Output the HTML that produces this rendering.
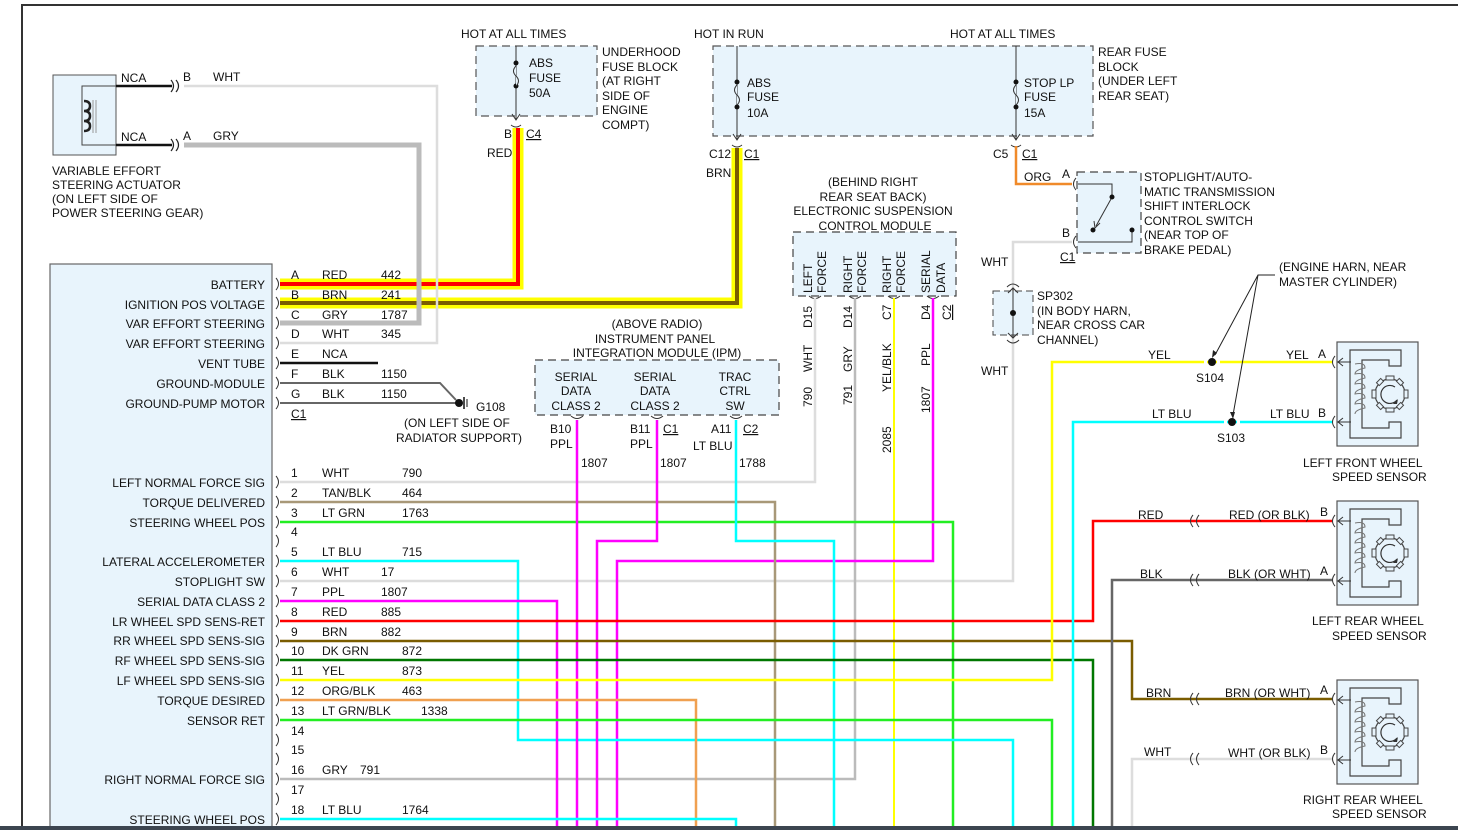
<!DOCTYPE html>
<html><head><meta charset="utf-8"><style>
html,body{margin:0;padding:0;background:#fff;}
svg{display:block;}
text{font-family:"Liberation Sans",sans-serif;font-size:12px;fill:#111;}
</style></head><body>
<svg width="1458" height="830" viewBox="0 0 1458 830" xmlns="http://www.w3.org/2000/svg">
<defs>
<g id="sens">
<rect x="0" y="0" width="81" height="104" fill="#e8f4fc" stroke="#555" stroke-width="1.2"/>
<path d="M64,24 V8 H13 V96 H64 V80 H52 V86 H25 V18 H52 V24 Z" fill="none" stroke="#444" stroke-width="1.2"/>
<path d="M18,22 q10,-2 10,4 q-10,2 -10,6 q10,-2 10,4 q-10,2 -10,6 q10,-2 10,4 q-10,2 -10,6 q10,-2 10,4 q-10,2 -10,6 q10,-2 10,4 q-10,2 -10,6" fill="none" stroke="#777" stroke-width="1"/>
<circle cx="53" cy="52" r="15" fill="none" stroke="#444" stroke-width="1.2"/>
<g fill="#e8f4fc" stroke="#444" stroke-width="1">
<rect x="49" y="34" width="8" height="4"/><rect x="49" y="66" width="8" height="4"/>
<rect x="35" y="48" width="4" height="8"/><rect x="67" y="48" width="4" height="8"/>
<rect x="40" y="38" width="6" height="4" transform="rotate(-45 43 40)"/><rect x="60" y="38" width="6" height="4" transform="rotate(45 63 40)"/>
<rect x="40" y="62" width="6" height="4" transform="rotate(45 43 64)"/><rect x="60" y="62" width="6" height="4" transform="rotate(-45 63 64)"/>
</g>
<path d="M60,58 A9,9 0 1 1 58,45" fill="none" stroke="#333" stroke-width="1.2"/>
<path d="M56,62 l5,-5 l-1,5 z" fill="#333"/>
<path d="M0,20 H14 M6,16 L1,20 L6,24 M0,80 H14 M6,76 L1,80 L6,84" fill="none" stroke="#333" stroke-width="1"/>
</g>
</defs>

<line x1="21" y1="5" x2="1458" y2="5" stroke="#333" stroke-width="2"/>
<line x1="22" y1="5" x2="22" y2="830" stroke="#333" stroke-width="2"/>

<rect x="53" y="75" width="63" height="80" fill="#e8f4fc" stroke="#555"/>
<path d="M116,86 H82 V145 H116" fill="none" stroke="#444"/>
<path d="M84,101 q6,0 6,5 q0,5 -6,5 q6,0 6,5 q0,5 -6,5 q6,0 6,5 q0,5 -6,5" fill="none" stroke="#222" stroke-width="2.5"/>
<line x1="93" y1="100" x2="93" y2="133" stroke="#999"/><line x1="96" y1="100" x2="96" y2="133" stroke="#999"/>
<line x1="116" y1="86" x2="172" y2="86" stroke="#111" stroke-width="2.5"/>
<line x1="116" y1="145" x2="172" y2="145" stroke="#111" stroke-width="2.5"/>
<path d="M171,80 q5,6 0,12 M176,80 q5,6 0,12 M171,139 q5,6 0,12 M176,139 q5,6 0,12" fill="none" stroke="#222" stroke-width="1.2"/>
<text x="121" y="82">NCA</text><text x="121" y="141">NCA</text>
<text x="183" y="81">B</text><text x="213" y="81">WHT</text>
<text x="183" y="140">A</text><text x="213" y="140">GRY</text>
<text x="52" y="175">VARIABLE EFFORT</text><text x="52" y="189">STEERING ACTUATOR</text>
<text x="52" y="203">(ON LEFT SIDE OF</text><text x="52" y="217">POWER STEERING GEAR)</text>

<rect x="476" y="46" width="121" height="70" fill="#e8f4fc" stroke="#555" stroke-dasharray="8,5" stroke-width="1.2"/>
<line x1="516" y1="46" x2="516" y2="120" stroke="#333"/>
<path d="M512,114 L516,120 L520,114" fill="none" stroke="#333"/>
<circle cx="516" cy="63" r="2.5" fill="#111"/><circle cx="516" cy="86" r="2.5" fill="#111"/>
<path d="M516,66 q-5,5 0,10 q5,5 0,10" fill="#e8f4fc" stroke="#333"/>
<text x="529" y="67">ABS</text><text x="529" y="82">FUSE</text><text x="529" y="97">50A</text>
<text x="461" y="38">HOT AT ALL TIMES</text>
<text x="602" y="56">UNDERHOOD</text><text x="602" y="71">FUSE BLOCK</text><text x="602" y="85">(AT RIGHT</text>
<text x="602" y="100">SIDE OF</text><text x="602" y="114">ENGINE</text><text x="602" y="129">COMPT)</text>
<text x="504" y="138">B</text><text x="526" y="138" text-decoration="underline">C4</text><text x="487" y="157">RED</text>

<rect x="713" y="46" width="380" height="90" fill="#e8f4fc" stroke="#555" stroke-dasharray="8,5" stroke-width="1.2"/>
<line x1="737" y1="46" x2="737" y2="140" stroke="#333"/>
<path d="M733,134 L737,140 L741,134" fill="none" stroke="#333"/>
<circle cx="737" cy="82" r="2.5" fill="#111"/><circle cx="737" cy="107" r="2.5" fill="#111"/>
<path d="M737,85 q-5,5 0,10 q5,5 0,10" fill="#e8f4fc" stroke="#333"/>
<line x1="1016" y1="46" x2="1016" y2="140" stroke="#333"/>
<path d="M1012,134 L1016,140 L1020,134" fill="none" stroke="#333"/>
<circle cx="1016" cy="82" r="2.5" fill="#111"/><circle cx="1016" cy="107" r="2.5" fill="#111"/>
<path d="M1016,85 q-5,5 0,10 q5,5 0,10" fill="#e8f4fc" stroke="#333"/>
<text x="747" y="87">ABS</text><text x="747" y="101">FUSE</text><text x="747" y="117">10A</text>
<text x="1024" y="87">STOP LP</text><text x="1024" y="101">FUSE</text><text x="1024" y="117">15A</text>
<text x="694" y="38">HOT IN RUN</text><text x="950" y="38">HOT AT ALL TIMES</text>
<text x="1098" y="56">REAR FUSE</text><text x="1098" y="71">BLOCK</text><text x="1098" y="85">(UNDER LEFT</text><text x="1098" y="100">REAR SEAT)</text>
<text x="709" y="158">C12</text><text x="744" y="158" text-decoration="underline">C1</text><text x="706" y="177">BRN</text>
<text x="993" y="158">C5</text><text x="1022" y="158" text-decoration="underline">C1</text>
<path d="M511,125 q5,4 10,0 M732,145 q5,4 10,0 M1011,145 q5,4 10,0" fill="none" stroke="#333"/>

<path d="M1016,146 V184 H1072" fill="none" stroke="#f08a2a" stroke-width="2.5"/>
<text x="1024" y="181">ORG</text>

<rect x="1077" y="172" width="64" height="81" fill="#e8f4fc" stroke="#444" stroke-dasharray="8,5" stroke-width="1.2"/>
<path d="M1078,184 H1112 V197 M1078,242 H1132 V230" fill="none" stroke="#333"/>
<circle cx="1112" cy="197" r="2.5" fill="#111"/><circle cx="1093" cy="230" r="2.5" fill="#111"/><circle cx="1132" cy="230" r="2.5" fill="#111"/>
<path d="M1111,199 L1096,226" stroke="#333"/><path d="M1094,221 L1095,228 L1100,223" fill="none" stroke="#333"/>
<path d="M1076,178 q-5,6 0,12 M1076,236 q-5,6 0,12" fill="none" stroke="#333"/>
<text x="1062" y="178">A</text><text x="1062" y="237">B</text><text x="1060" y="261" text-decoration="underline">C1</text>
<text x="1144" y="181">STOPLIGHT/AUTO-</text><text x="1144" y="196">MATIC TRANSMISSION</text><text x="1144" y="210">SHIFT INTERLOCK</text>
<text x="1144" y="225">CONTROL SWITCH</text><text x="1144" y="239">(NEAR TOP OF</text><text x="1144" y="254">BRAKE PEDAL)</text>

<path d="M1072,242 H1013 V581 H280" fill="none" stroke="#dcdcdc" stroke-width="2.5"/>
<rect x="993" y="291" width="40" height="44" fill="#e8f4fc" stroke="#444" stroke-dasharray="7,4"/>
<line x1="1013" y1="288" x2="1013" y2="338" stroke="#333"/>
<path d="M1008,293 L1013,288 L1018,293 M1008,333 L1013,338 L1018,333" fill="none" stroke="#333"/>
<circle cx="1013" cy="313" r="3" fill="#111"/>
<path d="M1007,287 q6,-6 12,0 M1007,340 q6,6 12,0" fill="none" stroke="#333"/>
<text x="981" y="266">WHT</text><text x="981" y="375">WHT</text>
<text x="1037" y="300">SP302</text><text x="1037" y="315">(IN BODY HARN,</text><text x="1037" y="329">NEAR CROSS CAR</text><text x="1037" y="344">CHANNEL)</text>

<text x="873" y="186" text-anchor="middle">(BEHIND RIGHT</text>
<text x="873" y="201" text-anchor="middle">REAR SEAT BACK)</text>
<text x="873" y="215" text-anchor="middle">ELECTRONIC SUSPENSION</text>
<text x="875" y="230" text-anchor="middle">CONTROL MODULE</text>
<rect x="793" y="232" width="163" height="64" fill="#e8f4fc" stroke="#444" stroke-dasharray="8,5" stroke-width="1.2"/>
<g transform="rotate(-90)">
<text x="-293" y="812">LEFT</text><text x="-293" y="826">FORCE</text>
<text x="-293" y="852">RIGHT</text><text x="-293" y="866">FORCE</text>
<text x="-293" y="891">RIGHT</text><text x="-293" y="905">FORCE</text>
<text x="-293" y="930">SERIAL</text><text x="-293" y="945">DATA</text>
<text x="-328" y="812">D15</text><text x="-328" y="852">D14</text><text x="-320" y="891">C7</text><text x="-320" y="930">D4</text>
<text x="-320" y="951" text-decoration="underline">C2</text>
<text x="-372" y="812">WHT</text><text x="-372" y="852">GRY</text><text x="-392" y="891">YEL/BLK</text><text x="-366" y="930">PPL</text>
<text x="-407" y="812">790</text><text x="-405" y="852">791</text><text x="-453" y="891">2085</text><text x="-413" y="930">1807</text>
</g>
<path d="M809,296 q6,5 12,0 M849,296 q6,5 12,0 M888,296 q6,5 12,0 M927,296 q6,5 12,0" fill="none" stroke="#333"/>

<text x="657" y="328" text-anchor="middle">(ABOVE RADIO)</text>
<text x="655" y="343" text-anchor="middle">INSTRUMENT PANEL</text>
<text x="657" y="357" text-anchor="middle">INTEGRATION MODULE (IPM)</text>
<rect x="535" y="360" width="244" height="55" fill="#e8f4fc" stroke="#444" stroke-dasharray="8,5" stroke-width="1.2"/>
<text x="576" y="381" text-anchor="middle">SERIAL</text><text x="576" y="395" text-anchor="middle">DATA</text><text x="576" y="410" text-anchor="middle">CLASS 2</text>
<text x="655" y="381" text-anchor="middle">SERIAL</text><text x="655" y="395" text-anchor="middle">DATA</text><text x="655" y="410" text-anchor="middle">CLASS 2</text>
<text x="735" y="381" text-anchor="middle">TRAC</text><text x="735" y="395" text-anchor="middle">CTRL</text><text x="735" y="410" text-anchor="middle">SW</text>
<path d="M571,416 q6,5 12,0 M651,416 q6,5 12,0 M730,416 q6,5 12,0" fill="none" stroke="#333"/>
<text x="550" y="433">B10</text><text x="630" y="433">B11</text><text x="663" y="433" text-decoration="underline">C1</text>
<text x="711" y="433">A11</text><text x="743" y="433" text-decoration="underline">C2</text>
<text x="550" y="448">PPL</text><text x="630" y="448">PPL</text><text x="693" y="450">LT BLU</text>
<text x="581" y="467">1807</text><text x="660" y="467">1807</text><text x="739" y="467">1788</text>

<rect x="50" y="264" width="222" height="570" fill="#e8f4fc" stroke="#666" stroke-width="1.2"/>
<g text-anchor="end">
<text x="265" y="289">BATTERY</text><text x="265" y="309">IGNITION POS VOLTAGE</text>
<text x="265" y="328">VAR EFFORT STEERING</text><text x="265" y="348">VAR EFFORT STEERING</text>
<text x="265" y="368">VENT TUBE</text><text x="265" y="388">GROUND-MODULE</text><text x="265" y="408">GROUND-PUMP MOTOR</text>
<text x="265" y="487">LEFT NORMAL FORCE SIG</text><text x="265" y="507">TORQUE DELIVERED</text><text x="265" y="527">STEERING WHEEL POS</text>
<text x="265" y="566">LATERAL ACCELEROMETER</text><text x="265" y="586">STOPLIGHT SW</text><text x="265" y="606">SERIAL DATA CLASS 2</text>
<text x="265" y="626">LR WHEEL SPD SENS-RET</text><text x="265" y="645">RR WHEEL SPD SENS-SIG</text><text x="265" y="665">RF WHEEL SPD SENS-SIG</text>
<text x="265" y="685">LF WHEEL SPD SENS-SIG</text><text x="265" y="705">TORQUE DESIRED</text><text x="265" y="725">SENSOR RET</text>
<text x="265" y="784">RIGHT NORMAL FORCE SIG</text><text x="265" y="824">STEERING WHEEL POS</text>
</g>
<g fill="none" stroke="#333" stroke-width="1">
<path d="M276,278 q5,6 0,12 M276,297 q5,6 0,12 M276,317 q5,6 0,12 M276,337 q5,6 0,12 M276,357 q5,6 0,12 M276,377 q5,6 0,12 M276,397 q5,6 0,12"/>
<path d="M276,476 q5,6 0,12 M276,496 q5,6 0,12 M276,516 q5,6 0,12 M276,535 q5,6 0,12 M276,555 q5,6 0,12 M276,575 q5,6 0,12 M276,595 q5,6 0,12 M276,615 q5,6 0,12 M276,635 q5,6 0,12 M276,654 q5,6 0,12 M276,674 q5,6 0,12 M276,694 q5,6 0,12 M276,714 q5,6 0,12 M276,734 q5,6 0,12 M276,753 q5,6 0,12 M276,773 q5,6 0,12 M276,793 q5,6 0,12 M276,813 q5,6 0,12"/>
</g>

<path d="M280,284 H518 V128" fill="none" stroke="#ffff00" stroke-width="11"/>
<path d="M280,284 H518 V128" fill="none" stroke="#ff0000" stroke-width="4"/>
<path d="M280,303 H737 V148" fill="none" stroke="#ffff00" stroke-width="11"/>
<path d="M280,303 H737 V148" fill="none" stroke="#7a5c00" stroke-width="4"/>
<path d="M184,145 H419 V323 H280" fill="none" stroke="#bbbbbb" stroke-width="5"/>
<path d="M184,86 H437 V343 H280" fill="none" stroke="#dddddd" stroke-width="2.5"/>
<line x1="280" y1="363" x2="378" y2="363" stroke="#111" stroke-width="2.5"/>
<path d="M280,383 H440 L456,400" fill="none" stroke="#666" stroke-width="2"/>
<line x1="280" y1="403" x2="458" y2="403" stroke="#666" stroke-width="2"/>
<circle cx="459" cy="403" r="4" fill="#111"/>
<line x1="464" y1="397" x2="464" y2="409" stroke="#111" stroke-width="1.5"/>
<line x1="467" y1="399" x2="467" y2="407" stroke="#111"/>
<text x="476" y="411">G108</text>
<text x="404" y="427">(ON LEFT SIDE OF</text><text x="396" y="442">RADIATOR SUPPORT)</text>
<g>
<text x="291" y="279">A</text><text x="322" y="279">RED</text><text x="381" y="279">442</text>
<text x="291" y="299">B</text><text x="322" y="299">BRN</text><text x="381" y="299">241</text>
<text x="291" y="319">C</text><text x="322" y="319">GRY</text><text x="381" y="319">1787</text>
<text x="291" y="338">D</text><text x="322" y="338">WHT</text><text x="381" y="338">345</text>
<text x="291" y="358">E</text><text x="322" y="358">NCA</text>
<text x="291" y="378">F</text><text x="322" y="378">BLK</text><text x="381" y="378">1150</text>
<text x="291" y="398">G</text><text x="322" y="398">BLK</text><text x="381" y="398">1150</text>
<text x="291" y="418" text-decoration="underline">C1</text>
</g>

<g fill="none">
<path d="M280,482 H815 V298" stroke="#dddddd" stroke-width="2.5"/>
<path d="M855,298 V779 H280" stroke="#bbbbbb" stroke-width="2.5"/>
<path d="M894,298 V830" stroke="#ffff00" stroke-width="2"/>
<path d="M933,298 V561 H617 V830" stroke="#ff00ff" stroke-width="2.5"/>
<path d="M280,502 H775 V830" stroke="#a89878" stroke-width="2.5"/>
<path d="M280,522 H953 V830" stroke="#22ee22" stroke-width="2.5"/>
<path d="M280,561 H518 V740 H1013 V830" stroke="#00ffff" stroke-width="2.5"/>
<path d="M280,601 H557 V830" stroke="#ff00ff" stroke-width="2.5"/>
<path d="M577,420 V830" stroke="#ff00ff" stroke-width="2.5"/>
<path d="M657,420 V541 H597 V830" stroke="#ff00ff" stroke-width="2.5"/>
<path d="M736,420 V541 H834 V830" stroke="#00ffff" stroke-width="2.5"/>
<path d="M280,621 H1093 V521 H1332" stroke="#ff0000" stroke-width="2.5"/>
<path d="M280,641 H1132 V699 H1332" stroke="#7a5c00" stroke-width="2.5"/>
<path d="M280,660 H1093 V830" stroke="#007700" stroke-width="2.5"/>
<path d="M280,680 H1052 V362 H1332" stroke="#ffff00" stroke-width="2.5"/>
<path d="M280,700 H696 V830" stroke="#f0a050" stroke-width="2.5"/>
<path d="M280,720 H1052 V830" stroke="#22ee22" stroke-width="2.5"/>
<path d="M280,819 H736 V830" stroke="#00ffff" stroke-width="2.5"/>
<path d="M1073,830 V422 H1332" stroke="#00ffff" stroke-width="2.5"/>
<path d="M1112,830 V580 H1332" stroke="#666666" stroke-width="2.5"/>
<path d="M1132,830 V759 H1332" stroke="#dddddd" stroke-width="2.5"/>
</g>
<g>
<text x="291" y="477">1</text><text x="322" y="477">WHT</text><text x="402" y="477">790</text>
<text x="291" y="497">2</text><text x="322" y="497">TAN/BLK</text><text x="402" y="497">464</text>
<text x="291" y="517">3</text><text x="322" y="517">LT GRN</text><text x="402" y="517">1763</text>
<text x="291" y="536">4</text>
<text x="291" y="556">5</text><text x="322" y="556">LT BLU</text><text x="402" y="556">715</text>
<text x="291" y="576">6</text><text x="322" y="576">WHT</text><text x="381" y="576">17</text>
<text x="291" y="596">7</text><text x="322" y="596">PPL</text><text x="381" y="596">1807</text>
<text x="291" y="616">8</text><text x="322" y="616">RED</text><text x="381" y="616">885</text>
<text x="291" y="636">9</text><text x="322" y="636">BRN</text><text x="381" y="636">882</text>
<text x="291" y="655">10</text><text x="322" y="655">DK GRN</text><text x="402" y="655">872</text>
<text x="291" y="675">11</text><text x="322" y="675">YEL</text><text x="402" y="675">873</text>
<text x="291" y="695">12</text><text x="322" y="695">ORG/BLK</text><text x="402" y="695">463</text>
<text x="291" y="715">13</text><text x="322" y="715">LT GRN/BLK</text><text x="421" y="715">1338</text>
<text x="291" y="735">14</text><text x="291" y="754">15</text>
<text x="291" y="774">16</text><text x="322" y="774">GRY</text><text x="360" y="774">791</text>
<text x="291" y="794">17</text>
<text x="291" y="814">18</text><text x="322" y="814">LT BLU</text><text x="402" y="814">1764</text>
</g>

<rect x="1204" y="356" width="3" height="12" fill="#fff"/><rect x="1217" y="356" width="3" height="12" fill="#fff"/>
<rect x="1224" y="416" width="3" height="12" fill="#fff"/><rect x="1237" y="416" width="3" height="12" fill="#fff"/>
<circle cx="1212" cy="362" r="4" fill="#111"/><circle cx="1232" cy="422" r="4" fill="#111"/>
<path d="M1275,275 H1258 L1215,355 M1258,275 L1233,415" fill="none" stroke="#222"/>
<path d="M1212,358 l1,-8 l4,3 z M1233,419 l-3,-7 l5,0 z" fill="#222"/>
<text x="1279" y="271">(ENGINE HARN, NEAR</text><text x="1279" y="286">MASTER CYLINDER)</text>
<text x="1148" y="359">YEL</text><text x="1196" y="382">S104</text><text x="1286" y="359">YEL</text>
<text x="1152" y="418">LT BLU</text><text x="1217" y="442">S103</text><text x="1270" y="418">LT BLU</text>
<text x="1318" y="358">A</text><text x="1318" y="417">B</text>

<g fill="none" stroke="#333" stroke-width="1">
<path d="M1193,515 q-5,6 0,12 M1199,515 q-5,6 0,12 M1193,574 q-5,6 0,12 M1199,574 q-5,6 0,12 M1193,693 q-5,6 0,12 M1199,693 q-5,6 0,12 M1193,753 q-5,6 0,12 M1199,753 q-5,6 0,12"/>
<path d="M1335,356 q-5,6 0,12 M1335,416 q-5,6 0,12 M1335,515 q-5,6 0,12 M1335,574 q-5,6 0,12 M1335,693 q-5,6 0,12 M1335,753 q-5,6 0,12"/>
</g>
<text x="1138" y="519">RED</text><text x="1229" y="519">RED (OR BLK)</text><text x="1320" y="516">B</text>
<text x="1140" y="578">BLK</text><text x="1228" y="578">BLK (OR WHT)</text><text x="1320" y="575">A</text>
<text x="1146" y="697">BRN</text><text x="1225" y="697">BRN (OR WHT)</text><text x="1320" y="694">A</text>
<text x="1144" y="756">WHT</text><text x="1228" y="757">WHT (OR BLK)</text><text x="1320" y="754">B</text>

<use href="#sens" x="1337" y="342"/>
<use href="#sens" x="1337" y="501"/>
<use href="#sens" x="1337" y="680"/>
<text x="1303" y="467">LEFT FRONT WHEEL</text><text x="1332" y="481">SPEED SENSOR</text>
<text x="1312" y="625">LEFT REAR WHEEL</text><text x="1332" y="640">SPEED SENSOR</text>
<text x="1303" y="804">RIGHT REAR WHEEL</text><text x="1332" y="818">SPEED SENSOR</text>

<rect x="0" y="826" width="1458" height="4" fill="#3c4550"/>
</svg>
</body></html>
